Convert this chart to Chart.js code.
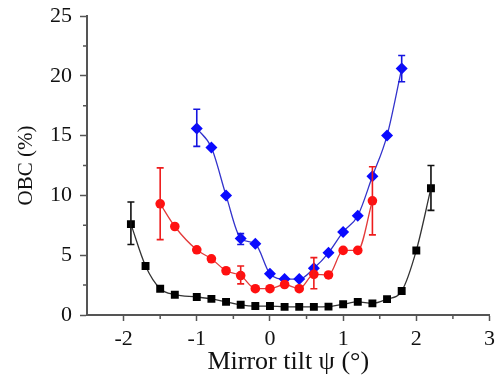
<!DOCTYPE html>
<html>
<head>
    <title>OBC vs mirror tilt</title>
    <script src="https://cdn.jsdelivr.net/npm/chart.js"></script>
    <style>
        html, body {
            margin: 0;
            padding: 0;
            background: #fff;
        }
        #wrap {
            width: 500px;
            height: 376px;
        }
    </style>
</head>
<body>
    <div id="wrap"><canvas id="obcChart" width="500" height="376"></canvas></div>

    <script>
        // tilt angle (deg) and OBC (%) for each series
        const tiltBlack = [-1.9, -1.7, -1.5, -1.3, -1.0, -0.8, -0.6, -0.4, -0.2, 0, 0.2, 0.4, 0.6, 0.8, 1.0, 1.2, 1.4, 1.6, 1.8, 2.0, 2.2];
        const obcBlack = [7.6, 4.1, 2.2, 1.7, 1.5, 1.35, 1.1, 0.85, 0.75, 0.75, 0.68, 0.68, 0.68, 0.7, 0.9, 1.1, 0.97, 1.33, 2.0, 5.4, 10.6];

        const tiltRed = [-1.5, -1.3, -1.0, -0.8, -0.6, -0.4, -0.2, 0, 0.2, 0.4, 0.6, 0.8, 1.0, 1.2, 1.4];
        const obcRed = [9.3, 7.4, 5.45, 4.7, 3.7, 3.3, 2.2, 2.2, 2.55, 2.2, 3.4, 3.35, 5.4, 5.4, 9.55];

        const tiltBlue = [-1.0, -0.8, -0.6, -0.4, -0.2, 0, 0.2, 0.4, 0.6, 0.8, 1.0, 1.2, 1.4, 1.6, 1.8];
        const obcBlue = [15.6, 14.0, 10.0, 6.4, 5.95, 3.45, 3.0, 3.0, 3.9, 5.2, 6.95, 8.3, 11.6, 15.0, 20.6];

        // error bars: [tilt, low, high]
        const errBlack = [[-1.9, 5.9, 9.45], [2.2, 8.75, 12.5]];
        const errRed = [[-1.5, 6.3, 12.3], [-0.4, 2.6, 4.1], [0.6, 2.2, 4.8], [1.4, 6.7, 12.4]];
        const errBlue = [[-1.0, 14.1, 17.2], [-0.4, 5.9, 6.8], [1.8, 19.5, 21.7]];

        const xTicks = [-2, -1, 0, 1, 2, 3];
        const yTicks = [0, 5, 10, 15, 20, 25];

        const FONT = "'Liberation Serif', 'Times New Roman', serif";
        const AXIS_COLOR = "#555";

        function toPoints(xs, ys) {
            return xs.map((x, i) => ({ x: x, y: ys[i] }));
        }

        // draws error bars and the shorter minor ticks
        const extrasPlugin = {
            id: "extras",
            afterDatasetsDraw(chart) {
                const ctx = chart.ctx;
                const xs = chart.scales.x;
                const ys = chart.scales.y;
                const sets = [
                    { data: errBlack, color: "#111" },
                    { data: errRed, color: "#ee1c1c" },
                    { data: errBlue, color: "#1515e0" }
                ];
                ctx.save();
                ctx.lineWidth = 1.6;
                sets.forEach(s => {
                    ctx.strokeStyle = s.color;
                    s.data.forEach(e => {
                        const px = xs.getPixelForValue(e[0]);
                        const lo = ys.getPixelForValue(e[1]);
                        const hi = ys.getPixelForValue(e[2]);
                        ctx.beginPath();
                        ctx.moveTo(px, lo);
                        ctx.lineTo(px, hi);
                        ctx.moveTo(px - 3.5, lo);
                        ctx.lineTo(px + 3.5, lo);
                        ctx.moveTo(px - 3.5, hi);
                        ctx.lineTo(px + 3.5, hi);
                        ctx.stroke();
                    });
                });

                // minor ticks
                ctx.strokeStyle = AXIS_COLOR;
                ctx.lineWidth = 1.5;
                const area = chart.chartArea;
                ctx.beginPath();
                for (let v = -1.5; v <= 3; v += 1) {
                    const px = xs.getPixelForValue(v);
                    ctx.moveTo(px, area.bottom);
                    ctx.lineTo(px, area.bottom + 4);
                }
                for (let v = 2.5; v < 25; v += 5) {
                    const py = ys.getPixelForValue(v);
                    ctx.moveTo(area.left, py);
                    ctx.lineTo(area.left - 4, py);
                }
                ctx.stroke();
                ctx.restore();
            }
        };

        new Chart(document.getElementById("obcChart"), {
            type: "line",
            data: {
                datasets: [
                    {
                        label: "black",
                        data: toPoints(tiltBlack, obcBlack),
                        borderColor: "#333",
                        backgroundColor: "#000",
                        borderWidth: 1.3,
                        pointStyle: "rect",
                        pointRadius: 5.6,
                        pointBorderWidth: 0,
                        cubicInterpolationMode: "monotone"
                    },
                    {
                        label: "red",
                        data: toPoints(tiltRed, obcRed),
                        borderColor: "#e33a3a",
                        backgroundColor: "#ff1010",
                        borderWidth: 1.3,
                        pointStyle: "circle",
                        pointRadius: 4.8,
                        pointBorderWidth: 0,
                        cubicInterpolationMode: "monotone"
                    },
                    {
                        label: "blue",
                        data: toPoints(tiltBlue, obcBlue),
                        borderColor: "#3333cc",
                        backgroundColor: "#0a0aff",
                        borderWidth: 1.3,
                        pointStyle: "rectRot",
                        pointRadius: 6,
                        pointBorderWidth: 0,
                        cubicInterpolationMode: "monotone"
                    }
                ]
            },
            options: {
                responsive: false,
                animation: false,
                layout: {
                    padding: { top: 16, right: 8, left: 0, bottom: 0 }
                },
                plugins: {
                    legend: { display: false },
                    tooltip: { enabled: false }
                },
                scales: {
                    x: {
                        type: "linear",
                        min: -2.5,
                        max: 3,
                        border: { color: AXIS_COLOR, width: 2 },
                        grid: {
                            drawOnChartArea: false,
                            tickLength: 6,
                            tickWidth: 1.5,
                            tickColor: ctx => (xTicks.includes(ctx.tick.value) ? AXIS_COLOR : "rgba(0,0,0,0)")
                        },
                        ticks: {
                            stepSize: 0.5,
                            autoSkip: false,
                            maxRotation: 0,
                            padding: 5,
                            color: "#111",
                            font: { family: FONT, size: 22 },
                            callback: v => (xTicks.includes(v) ? String(v) : "")
                        },
                        title: {
                            display: true,
                            text: "Mirror tilt ψ (°)",
                            color: "#111",
                            font: { family: FONT, size: 26, lineHeight: 1.1 },
                            padding: { top: 0, bottom: 0 }
                        },
                        afterFit: scale => { scale.height = 61; }
                    },
                    y: {
                        min: 0,
                        max: 25,
                        border: { color: AXIS_COLOR, width: 2 },
                        grid: {
                            drawOnChartArea: false,
                            tickLength: 7,
                            tickWidth: 1.5,
                            tickColor: ctx => (yTicks.includes(ctx.tick.value) ? AXIS_COLOR : "rgba(0,0,0,0)")
                        },
                        ticks: {
                            stepSize: 2.5,
                            autoSkip: false,
                            padding: 8,
                            color: "#111",
                            font: { family: FONT, size: 22, lineHeight: 0.7 },
                            callback: v => (yTicks.includes(v) ? String(v) : "")
                        },
                        title: {
                            display: true,
                            text: "OBC (%)",
                            color: "#111",
                            font: { family: FONT, size: 21 },
                            padding: { top: 14, bottom: 0 }
                        },
                        afterFit: scale => { scale.width = 87; }
                    }
                }
            },
            plugins: [extrasPlugin]
        });
    </script>
</body>
</html>
